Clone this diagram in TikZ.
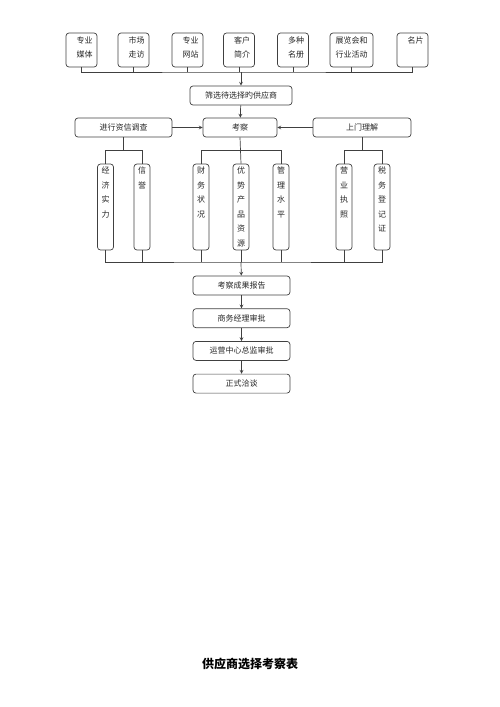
\documentclass[tikz,border=0pt]{standalone}
\usepackage{fontspec}
\setmainfont{Noto Sans CJK SC}
\usepackage{tikz}
\usetikzlibrary{arrows, positioning, calc}

\newcommand{\vtext}[2]{\parbox[c][#1][t]{10pt}{\centering #2}}

\begin{document}
\begin{tikzpicture}[
    x=1pt, y=-1pt,
    every node/.style={font=\fontsize{8}{14}\selectfont, text=black!85},
    srcbox/.style={rectangle, rounded corners=3pt, draw=black!75, line width=0.7pt, minimum width=31pt, minimum height=34pt, inner sep=1pt},
    stepbox/.style={rectangle, rounded corners=3pt, draw=black!75, line width=0.7pt, minimum width=97pt, minimum height=19pt, inner sep=1pt},
    itembox/.style={rectangle, rounded corners=3pt, draw=black!75, line width=0.7pt, minimum width=16pt, minimum height=86pt, inner sep=0pt, font=\fontsize{8}{14.5}\selectfont},
    link/.style={draw=black!75, line width=0.7pt},
    arrow/.style={->, >=stealth, draw=black!75, line width=0.7pt}
]
\useasboundingbox (0,0) rectangle (500,707);

% Sources
\node[srcbox] (media) at (81.5,50) {\vtext{26pt}{专业\\媒体}};
\node[srcbox] (market) at (133.5,50) {\vtext{26pt}{市场\\走访}};
\node[srcbox] (web) at (187.5,50) {\vtext{26pt}{专业\\网站}};
\node[srcbox] (client) at (239,50) {\vtext{26pt}{客户\\简介}};
\node[srcbox] (roster) at (293,50) {\vtext{26pt}{多种\\名册}};
\node[srcbox, minimum width=43pt] (expo) at (351.5,50) {\parbox[c][26pt][t]{40pt}{\centering 展览会和\\行业活动}};
\node[srcbox] (card) at (412.5,50) {\vtext{26pt}{名片}};

% Screening and review
\node[stepbox, minimum width=102pt] (filter) at (241,95.5) {筛选待选择旳供应商};
\node[stepbox, minimum width=74pt] (review) at (240,127.5) {考察};
\node[stepbox] (credit) at (123.5,127.5) {进行资信调查};
\node[stepbox, minimum width=98pt] (visit) at (362,127.5) {上门理解};

% Review items
\node[itembox] (economy) at (105.5,207) {\vtext{80pt}{经\\济\\实\\力}};
\node[itembox] (repute) at (142,207) {\vtext{80pt}{信\\誉}};
\node[itembox] (finance) at (201,207) {\vtext{80pt}{财\\务\\状\\况}};
\node[itembox] (product) at (241,207) {\vtext{80pt}{优\\势\\产\\品\\资\\源}};
\node[itembox] (manage) at (281,207) {\vtext{80pt}{管\\理\\水\\平}};
\node[itembox] (license) at (344,207) {\vtext{80pt}{营\\业\\执\\照}};
\node[itembox] (tax) at (382,207) {\vtext{80pt}{税\\务\\登\\记\\证}};

% Approval chain
\node[stepbox] (report) at (241.5,285.5) {考察成果报告};
\node[stepbox, below=13pt of report] (manager) {商务经理审批};
\node[stepbox, below=13pt of manager] (director) {运营中心总监审批};
\node[stepbox, below=13pt of director] (talks) {正式洽谈};

% Title
\node[font=\fontsize{12}{14}\selectfont\bfseries, text=black] (title) at (250,664) {供应商选择考察表};

% Source bus
\coordinate (topbus) at (241,72);
\draw[link] (media.south) |- (topbus) -| (card.south);
\foreach \n in {market, web, client, roster, expo}
    \draw[link] (\n.south) -- (\n.south |- topbus);
\draw[arrow] (topbus) -- (filter);
\draw[arrow] (filter) -- (review);
\draw[arrow] (credit) -- (review);
\draw[arrow] (visit) -- (review);

% Branches
\draw[link] (credit.south) -- ++(0,12.5) coordinate (cb);
\draw[link] (economy.north) |- (cb) -| (repute.north);
\draw[link] (review.south) -- (product.north);
\draw[link] (finance.north) |- ($(review.south)+(0,13)$) -| (manage.north);
\draw[link] (visit.south) -- ++(0,12.5) coordinate (vb);
\draw[link] (license.north) |- (vb) -| (tax.north);

% Result bus
\coordinate (lowbus) at (241,262);
\draw[link] (economy.south) |- (lowbus) -| (tax.south);
\foreach \n in {repute, finance, product, manage, license}
    \draw[link] (\n.south) -- (\n.south |- lowbus);
\draw[arrow] (lowbus) -- (report);
\draw[arrow] (report) -- (manager);
\draw[arrow] (manager) -- (director);
\draw[arrow] (director) -- (talks);

\end{tikzpicture}
\end{document}
